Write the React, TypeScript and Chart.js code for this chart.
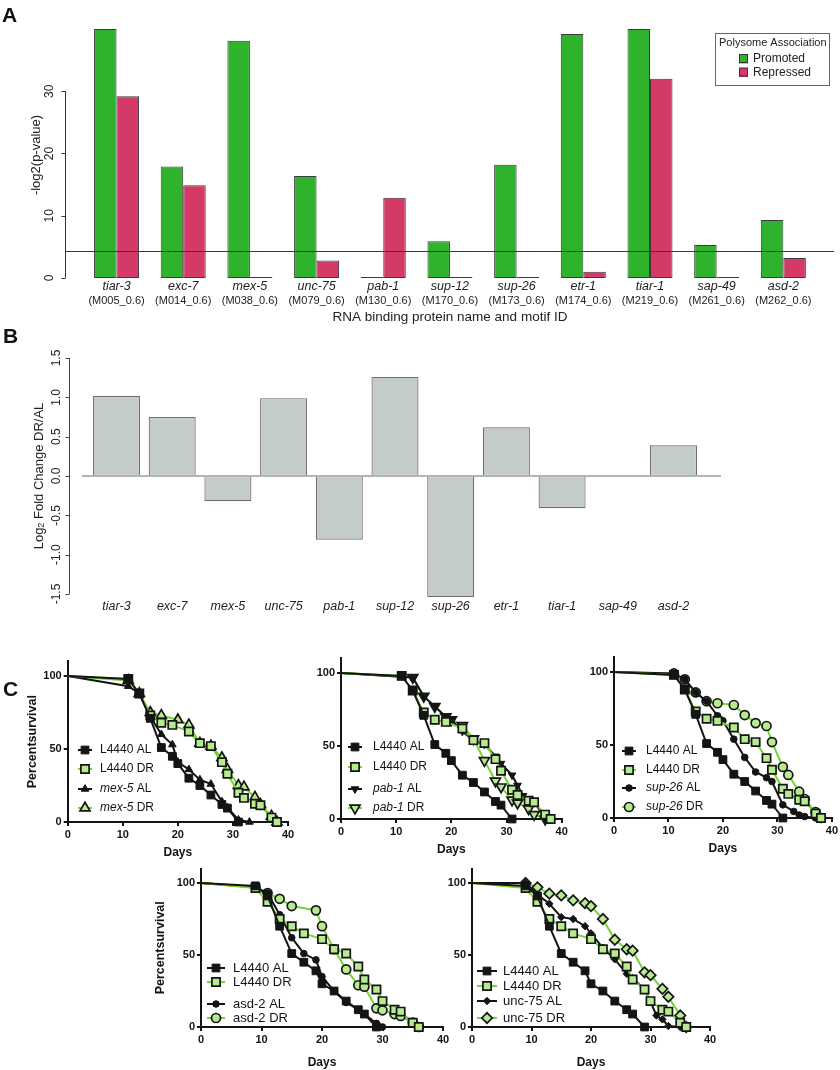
import React, { useEffect, useRef } from "react";
import { Chart, registerables } from "chart.js";
Chart.register(...registerables);

const FONT = "'Liberation Sans', Arial, Helvetica, sans-serif";
Chart.defaults.font.family = FONT;

// ---------------- Panel A data ----------------
const A_GENES = ["tiar-3", "exc-7", "mex-5", "unc-75", "pab-1", "sup-12", "sup-26", "etr-1", "tiar-1", "sap-49", "asd-2"];
const A_MOTIFS = ["(M005_0.6)", "(M014_0.6)", "(M038_0.6)", "(M079_0.6)", "(M130_0.6)", "(M170_0.6)", "(M173_0.6)", "(M174_0.6)", "(M219_0.6)", "(M261_0.6)", "(M262_0.6)"];
const A_PROMOTED = [40.0, 17.9, 38.1, 16.4, 0.15, 5.9, 18.2, 39.2, 40.0, 5.3, 9.3];
const A_REPRESSED = [29.2, 14.9, 0.15, 2.8, 12.9, 0.15, 0.15, 1.0, 32.0, 0.15, 3.2];
const A_SERIES = ["Promoted", "Repressed"];
const A_LEGEND_TITLE = "Polysome Association";
const A_Y_TICKS = [0, 10, 20, 30];
const A_THRESHOLD = 4.32;
const A_Y_TITLE = "-log2(p-value)";
const A_X_TITLE = "RNA binding protein name and motif ID";

// ---------------- Panel B data ----------------
const B_GENES = ["tiar-3", "exc-7", "mex-5", "unc-75", "pab-1", "sup-12", "sup-26", "etr-1", "tiar-1", "sap-49", "asd-2"];
const B_LOG2FC = [1.02, 0.75, -0.32, 0.99, -0.81, 1.26, -1.54, 0.62, -0.41, -0.01, 0.39];
const B_Y_TICKS = [-1.5, -1, -0.5, 0, 0.5, 1, 1.5];

// ---------------- Panel C data ----------------
const C_X_TICKS = [0, 10, 20, 30, 40];
const C_Y_TICKS = [0, 50, 100];

const TOP_CTRL_AL_DAYS = [0, 11, 13, 15, 17, 19, 20, 22, 24, 26, 28, 29, 31];
const TOP_CTRL_AL_PCT = [100, 98, 88, 71, 51, 45, 40, 30, 25, 18.5, 12, 9.5, 0];
const TOP_CTRL_DR_DAYS = [0, 11, 13, 15, 17, 19, 22, 24, 26, 28, 29, 31, 32, 34, 35, 37, 38];
const TOP_CTRL_DR_PCT = [100, 98, 88, 73, 68, 66.5, 62, 54, 52, 41, 33, 20, 16.5, 12.5, 11.5, 3, 0];

const MEX5_AL_DAYS = [0, 11, 13, 15, 17, 19, 20, 22, 24, 26, 28, 29, 31, 33];
const MEX5_AL_PCT = [100, 93, 88, 72, 60, 53, 41, 36, 29, 26, 14, 10, 1.5, 0];
const MEX5_DR_DAYS = [0, 11, 13, 15, 17, 20, 22, 24, 26, 28, 29, 31, 32, 34, 35, 37, 38];
const MEX5_DR_PCT = [100, 97, 88, 75, 73, 70, 66.5, 54, 52, 44, 36, 25, 24, 17, 12, 4, 0];

const PAB1_AL_DAYS = [0, 13, 15, 17, 19, 20, 22, 24, 26, 28, 29, 31, 32, 33, 35, 37];
const PAB1_AL_PCT = [100, 97, 84, 77, 70, 68, 60, 54, 51, 43, 38, 30, 23, 16, 12, 0];
const PAB1_DR_DAYS = [0, 13, 15, 17, 19, 20, 22, 24, 26, 28, 29, 31, 32, 34, 35, 37];
const PAB1_DR_PCT = [100, 97, 84, 77, 70, 68, 64, 55, 40, 26, 22, 13, 11, 7, 3, 0];

const SUP26_AL_DAYS = [0, 11, 13, 15, 17, 19, 20, 22, 24, 26, 28, 29, 31, 33, 34, 35, 37];
const SUP26_AL_PCT = [100, 99, 95, 86, 80, 70, 66.6, 54, 41.5, 31.5, 27.6, 25, 9, 4.5, 2, 1, 0];
const SUP26_DR_DAYS = [0, 11, 13, 15, 17, 19, 22, 24, 26, 28, 29, 31, 32, 34, 35, 37, 38];
const SUP26_DR_PCT = [100, 99, 95, 86, 80, 78.6, 77.4, 70.5, 65, 63, 52, 35, 29.5, 18, 13, 4, 0];

const BOT_CTRL_AL_DAYS = [0, 9, 11, 13, 15, 17, 19, 20, 22, 24, 26, 27, 29];
const BOT_CTRL_AL_PCT = [100, 98, 91, 70, 51, 45, 39, 30, 25, 18, 12, 9, 0];
const BOT_CTRL_DR_DAYS = [0, 9, 11, 13, 15, 17, 20, 22, 24, 26, 27, 29, 30, 32, 33, 35, 36];
const BOT_CTRL_DR_PCT = [100, 96.5, 87, 75, 70, 65, 61, 54, 51, 42, 33, 26, 18, 12, 10.7, 3, 0];

const ASD2_AL_DAYS = [0, 9, 11, 13, 15, 17, 19, 20, 22, 24, 26, 27, 29, 30];
const ASD2_AL_PCT = [100, 97, 93, 78, 62, 51, 46.6, 35, 25, 17, 12, 9, 2.5, 0];
const ASD2_DR_DAYS = [0, 9, 11, 13, 15, 19, 20, 22, 24, 26, 27, 29, 30, 32, 33, 35, 36];
const ASD2_DR_PCT = [100, 97, 93, 89, 84, 81, 70, 54, 40, 29, 28, 13, 11.6, 9, 7.7, 3, 0];

const UNC75_AL_DAYS = [0, 9, 11, 13, 15, 17, 19, 20, 22, 24, 26, 27, 29, 30, 31, 32, 33, 35];
const UNC75_AL_PCT = [100, 100, 92, 85.6, 76.3, 75, 70, 65, 55, 47, 37, 34, 26, 17.6, 8, 5.3, 0.7, 0];
const UNC75_DR_DAYS = [0, 9, 11, 13, 15, 17, 19, 20, 22, 24, 26, 27, 29, 30, 32, 33, 35, 36];
const UNC75_DR_PCT = [100, 100, 97, 92.6, 91.4, 88, 86, 84, 75, 60.6, 54, 53, 38, 36, 26.5, 21, 8, 0];

const C1_LABELS = ["L4440 AL", "L4440 DR", "mex-5 AL", "mex-5 DR"];
const C2_LABELS = ["L4440 AL", "L4440 DR", "pab-1 AL", "pab-1 DR"];
const C3_LABELS = ["L4440 AL", "L4440 DR", "sup-26 AL", "sup-26 DR"];
const C4_LABELS = ["L4440 AL", "L4440 DR", "asd-2 AL", "asd-2 DR"];
const C5_LABELS = ["L4440 AL", "L4440 DR", "unc-75 AL", "unc-75 DR"];
const C_ITALIC_GENES = ["mex-5", "pab-1", "sup-26"];
const C_X_TITLE = "Days";
const C_Y_TITLE = "Percentsurvival";

// ---------------- styles ----------------
const GREEN = "#74d62f";
const DR_FILL = "#b6ec8f";
const INK = "#141414";

type MarkerStyle = { line: string; style: string; r: number; fill: string; border: string; bw: number; rot?: number };
const ST: Record<string, MarkerStyle> = {
  sqAL: { line: INK, style: "rect", r: 5.5, fill: INK, border: INK, bw: 1 },
  sqDR: { line: GREEN, style: "rect", r: 5.8, fill: DR_FILL, border: INK, bw: 1.7 },
  triAL: { line: INK, style: "triangle", r: 4.4, fill: INK, border: INK, bw: 1 },
  triDR: { line: GREEN, style: "triangle", r: 5.8, fill: DR_FILL, border: INK, bw: 1.7 },
  dtriAL: { line: INK, style: "triangle", r: 4.4, fill: INK, border: INK, bw: 1, rot: 180 },
  dtriDR: { line: GREEN, style: "triangle", r: 5.8, fill: DR_FILL, border: INK, bw: 1.7, rot: 180 },
  dotAL: { line: INK, style: "circle", r: 3.3, fill: INK, border: INK, bw: 1 },
  circDR: { line: GREEN, style: "circle", r: 4.5, fill: DR_FILL, border: INK, bw: 1.7 },
  diaAL: { line: INK, style: "rectRot", r: 3.7, fill: INK, border: INK, bw: 1 },
  diaDR: { line: GREEN, style: "rectRot", r: 5.2, fill: DR_FILL, border: INK, bw: 1.7 },
};

// ---------------- helpers ----------------
type TitlePart = { t: string; size: number; dy?: number };
function makeRAxis(c: {
  ticks: number[]; decimals: number; axisX: number; tickLen: number; labelX: number; fontSize: number;
  title: TitlePart[]; titleX: number; titleY: number; color: string; drawLine: boolean;
}) {
  return {
    id: "rAxis",
    afterDraw(chart: any) {
      const ctx: CanvasRenderingContext2D = chart.ctx;
      const ys = chart.scales.y;
      const px = c.ticks.map((v) => ys.getPixelForValue(v));
      ctx.save();
      ctx.strokeStyle = c.color;
      ctx.lineWidth = 1;
      const ax = Math.round(c.axisX) + 0.5;
      ctx.beginPath();
      if (c.drawLine) {
        ctx.moveTo(ax, Math.min(...px));
        ctx.lineTo(ax, Math.max(...px));
      }
      px.forEach((p) => {
        const yy = Math.round(p) + 0.5;
        ctx.moveTo(ax - c.tickLen, yy);
        ctx.lineTo(ax, yy);
      });
      ctx.stroke();
      ctx.fillStyle = "#222";
      ctx.font = `${c.fontSize}px ${FONT}`;
      ctx.textAlign = "center";
      ctx.textBaseline = "middle";
      c.ticks.forEach((v, i) => {
        ctx.save();
        ctx.translate(c.labelX, px[i]);
        ctx.rotate(-Math.PI / 2);
        ctx.fillText(v.toFixed(c.decimals), 0, 0);
        ctx.restore();
      });
      ctx.save();
      ctx.translate(c.titleX, c.titleY);
      ctx.rotate(-Math.PI / 2);
      let total = 0;
      c.title.forEach((p) => {
        ctx.font = `${p.size}px ${FONT}`;
        total += ctx.measureText(p.t).width;
      });
      let x = -total / 2;
      ctx.textAlign = "left";
      c.title.forEach((p) => {
        ctx.font = `${p.size}px ${FONT}`;
        ctx.fillText(p.t, x, p.dy || 0);
        x += ctx.measureText(p.t).width;
      });
      ctx.restore();
      ctx.restore();
    },
  };
}

function drawMarker(ctx: CanvasRenderingContext2D, st: MarkerStyle, x: number, y: number) {
  const r = st.r;
  ctx.beginPath();
  if (st.style === "circle") ctx.arc(x, y, r, 0, Math.PI * 2);
  else if (st.style === "rect") {
    const s = r * Math.SQRT1_2;
    ctx.rect(x - s, y - s, 2 * s, 2 * s);
  } else if (st.style === "rectRot") {
    ctx.moveTo(x - r, y);
    ctx.lineTo(x, y - r);
    ctx.lineTo(x + r, y);
    ctx.lineTo(x, y + r);
    ctx.closePath();
  } else {
    let a = ((st.rot || 0) * Math.PI) / 180;
    ctx.moveTo(x + Math.sin(a) * r, y - Math.cos(a) * r);
    for (let k = 0; k < 2; k++) {
      a += (2 * Math.PI) / 3;
      ctx.lineTo(x + Math.sin(a) * r, y - Math.cos(a) * r);
    }
    ctx.closePath();
  }
  ctx.fillStyle = st.fill;
  ctx.strokeStyle = st.border;
  ctx.lineWidth = st.bw;
  ctx.fill();
  ctx.stroke();
}

// ---------------- Panel A ----------------
function buildA() {
  const yAxis = makeRAxis({
    ticks: A_Y_TICKS, decimals: 0, axisX: 65, tickLen: 4, labelX: 50, fontSize: 12,
    title: [{ t: A_Y_TITLE, size: 13 }], titleX: 36, titleY: 155, color: "#333", drawLine: true,
  });
  const threshold = {
    id: "threshold",
    afterDatasetsDraw(chart: any) {
      const ctx: CanvasRenderingContext2D = chart.ctx;
      const yy = Math.round(chart.scales.y.getPixelForValue(A_THRESHOLD)) + 0.5;
      ctx.save();
      ctx.strokeStyle = "#3a3a3a";
      ctx.lineWidth = 1;
      ctx.beginPath();
      ctx.moveTo(65, yy);
      ctx.lineTo(834, yy);
      ctx.stroke();
      ctx.restore();
    },
  };
  const legend = {
    id: "aLegend",
    afterDraw(chart: any) {
      const ctx: CanvasRenderingContext2D = chart.ctx;
      ctx.save();
      ctx.fillStyle = "#fff";
      ctx.fillRect(715, 33, 114, 52);
      ctx.strokeStyle = "#666";
      ctx.lineWidth = 1;
      ctx.strokeRect(715.5, 33.5, 114, 52);
      ctx.fillStyle = "#222";
      ctx.textBaseline = "middle";
      ctx.textAlign = "left";
      ctx.font = `11px ${FONT}`;
      ctx.fillText(A_LEGEND_TITLE, 719, 43);
      chart.data.datasets.forEach((ds: any, i: number) => {
        const y = 59 + i * 13.5;
        ctx.fillStyle = ds.backgroundColor;
        ctx.fillRect(739, y - 4.5, 9, 9);
        ctx.strokeStyle = "#333";
        ctx.strokeRect(739.5, y - 4.5, 8, 8);
        ctx.fillStyle = "#222";
        ctx.font = `12px ${FONT}`;
        ctx.fillText(ds.label, 753, y);
      });
      ctx.restore();
    },
  };
  const barCommon = { borderColor: "#3c3c3c", borderWidth: 1, borderSkipped: false, categoryPercentage: 0.675, barPercentage: 1 };
  return {
    type: "bar",
    data: {
      labels: A_GENES,
      datasets: [
        { label: A_SERIES[0], data: A_PROMOTED, backgroundColor: "#2fb22c", ...barCommon },
        { label: A_SERIES[1], data: A_REPRESSED, backgroundColor: "#d43a66", ...barCommon },
      ],
    },
    options: {
      animation: false, responsive: false, events: [],
      layout: { padding: { left: 83.2, right: 23.3, top: 16.5, bottom: 0 } },
      plugins: { legend: { display: false }, tooltip: { enabled: false } },
      scales: {
        x: {
          type: "category", position: "bottom", weight: 0,
          grid: { display: false, drawTicks: false }, border: { display: false },
          ticks: { font: { size: 12.5, style: "italic" }, color: "#222", padding: 1, maxRotation: 0, autoSkip: false },
          afterFit: (s: any) => { s.height = 16; },
        },
        x2: {
          type: "category", position: "bottom", weight: 1, labels: A_MOTIFS, offset: true,
          grid: { display: false, drawTicks: false }, border: { display: false },
          ticks: { font: { size: 11 }, color: "#222", padding: 0, maxRotation: 0, autoSkip: false },
          title: { display: true, text: A_X_TITLE, font: { size: 13.5 }, color: "#222", padding: { top: 0, bottom: 5 } },
          afterFit: (s: any) => { s.height = 36; },
        },
        y: { display: false, min: 0, max: 42 },
      },
    },
    plugins: [yAxis, threshold, legend],
  };
}

// ---------------- Panel B ----------------
function buildB() {
  const yAxis = makeRAxis({
    ticks: B_Y_TICKS, decimals: 1, axisX: 69, tickLen: 4, labelX: 57, fontSize: 12,
    title: [{ t: "Log", size: 13 }, { t: "2", size: 9, dy: 3 }, { t: " Fold Change DR/AL", size: 13 }],
    titleX: 39, titleY: 146, color: "#444", drawLine: true,
  });
  const zero = {
    id: "zero",
    afterDatasetsDraw(chart: any) {
      const ctx: CanvasRenderingContext2D = chart.ctx;
      const yy = chart.scales.y.getPixelForValue(0);
      ctx.save();
      ctx.strokeStyle = "#b4b4b4";
      ctx.lineWidth = 2;
      ctx.beginPath();
      ctx.moveTo(82, yy);
      ctx.lineTo(721, yy);
      ctx.stroke();
      ctx.restore();
    },
  };
  return {
    type: "bar",
    data: {
      labels: B_GENES,
      datasets: [{
        label: "log2FC", data: B_LOG2FC, backgroundColor: "#c3ccc9", borderColor: "#6f6f6f", borderWidth: 1.2,
        borderSkipped: false, categoryPercentage: 0.844, barPercentage: 1,
      }],
    },
    options: {
      animation: false, responsive: false, events: [],
      layout: { padding: { left: 88.65, right: 138.65, top: 24.1, bottom: 0 } },
      plugins: { legend: { display: false }, tooltip: { enabled: false } },
      scales: {
        x: {
          type: "category",
          grid: { display: false, drawTicks: false }, border: { display: false },
          ticks: { font: { size: 12.5, style: "italic" }, color: "#222", padding: 1.5, maxRotation: 0, autoSkip: false },
          afterFit: (s: any) => { s.height = 22.1; },
        },
        y: { display: false, min: -1.55, max: 1.55 },
      },
    },
    plugins: [yAxis, zero],
  };
}

// ---------------- Panel C ----------------
type SeriesDef = { label: string; days: number[]; pct: number[]; st: MarkerStyle };
type PlotDef = {
  series: SeriesDef[]; italic: string[];
  x0: number; x40: number; y0: number; y100: number;
  left: number; top: number; w: number; h: number;
  daysY: number; titleX?: number;
  rows: number[]; lineX: [number, number]; textX: number; fontSize: number;
};

function buildSurvival(p: PlotDef) {
  const k = (p.y0 - p.y100) / 100;
  const chartLeft = p.x0 - p.left;
  const chartRight = p.x40 - p.left;
  const topLocal = p.y0 - 110 * k - p.top;
  const bottomLocal = p.y0 - p.top;
  const xTitleSize = 12;
  const yTitleSize = 12.5;
  const legend = {
    id: "survLegend",
    afterDraw(chart: any) {
      const ctx: CanvasRenderingContext2D = chart.ctx;
      p.series.forEach((s, i) => {
        const y = p.rows[i] - p.top;
        const xa = p.lineX[0] - p.left;
        const xb = p.lineX[1] - p.left;
        ctx.save();
        ctx.strokeStyle = s.st.line;
        ctx.lineWidth = 2;
        ctx.beginPath();
        ctx.moveTo(xa, y);
        ctx.lineTo(xb, y);
        ctx.stroke();
        drawMarker(ctx, s.st, (xa + xb) / 2, y);
        let tx = p.textX - p.left;
        ctx.fillStyle = INK;
        ctx.textBaseline = "middle";
        ctx.textAlign = "left";
        const gene = p.italic.find((g) => s.label.startsWith(g));
        let rest = s.label;
        if (gene) {
          ctx.font = `italic ${p.fontSize}px ${FONT}`;
          ctx.fillText(gene, tx, y);
          tx += ctx.measureText(gene).width;
          rest = s.label.slice(gene.length);
        }
        ctx.font = `${p.fontSize}px ${FONT}`;
        ctx.fillText(rest, tx, y);
        ctx.restore();
      });
    },
  };
  const axisCommon = {
    grid: { drawOnChartArea: false, drawTicks: true, tickLength: 4, color: INK, lineWidth: 2 },
    border: { display: true, color: INK, width: 2 },
  };
  return {
    type: "line",
    data: {
      datasets: p.series.map((s) => ({
        label: s.label,
        data: s.days.map((d, i) => ({ x: d, y: s.pct[i] })),
        borderColor: s.st.line,
        borderWidth: 2,
        tension: 0,
        fill: false,
        clip: false,
        pointStyle: s.st.style,
        pointRadius: (c: any) => (c.dataIndex === 0 ? 0 : s.st.r),
        pointBackgroundColor: s.st.fill,
        pointBorderColor: s.st.border,
        pointBorderWidth: s.st.bw,
        pointRotation: s.st.rot || 0,
      })),
    },
    options: {
      animation: false, responsive: false, events: [],
      layout: { padding: { left: 0, right: p.w - chartRight, top: topLocal, bottom: 0 } },
      plugins: { legend: { display: false }, tooltip: { enabled: false } },
      scales: {
        x: {
          type: "linear", min: 0, max: 40, ...axisCommon,
          ticks: { font: { size: 11, weight: "bold" }, color: INK, padding: 2 },
          afterBuildTicks: (s: any) => { s.ticks = C_X_TICKS.map((v) => ({ value: v })); },
          title: {
            display: true, text: C_X_TITLE, color: INK, font: { size: xTitleSize, weight: "bold" },
            padding: { top: 0, bottom: p.top + p.h - p.daysY - (xTitleSize * 1.2) / 2 },
          },
          afterFit: (s: any) => { s.height = p.h - bottomLocal; },
        },
        y: {
          type: "linear", min: 0, max: 110, ...axisCommon,
          ticks: { font: { size: 11, weight: "bold" }, color: INK, padding: 2 },
          afterBuildTicks: (s: any) => { s.ticks = C_Y_TICKS.map((v) => ({ value: v })); },
          title: {
            display: p.titleX !== undefined, text: C_Y_TITLE, color: INK, font: { size: yTitleSize, weight: "bold" },
            padding: { top: (p.titleX || 0) - p.left - (yTitleSize * 1.2) / 2, bottom: 0 },
          },
          afterFit: (s: any) => { s.width = chartLeft; },
        },
      },
    },
    plugins: [legend],
  };
}

function mk(labels: string[], days: number[][], pct: number[][], styles: MarkerStyle[]): SeriesDef[] {
  return labels.map((l, i) => ({ label: l, days: days[i], pct: pct[i], st: styles[i] }));
}

const PLOTS: PlotDef[] = [
  {
    series: mk(C1_LABELS, [TOP_CTRL_AL_DAYS, TOP_CTRL_DR_DAYS, MEX5_AL_DAYS, MEX5_DR_DAYS], [TOP_CTRL_AL_PCT, TOP_CTRL_DR_PCT, MEX5_AL_PCT, MEX5_DR_PCT], [ST.sqAL, ST.sqDR, ST.triAL, ST.triDR]),
    italic: C_ITALIC_GENES, x0: 67.7, x40: 288, y0: 822, y100: 676, left: 0, top: 640, w: 300, h: 230,
    daysY: 853, titleX: 33, rows: [750, 769, 789, 808], lineX: [78, 92], textX: 100, fontSize: 12,
  },
  {
    series: mk(C2_LABELS, [TOP_CTRL_AL_DAYS, TOP_CTRL_DR_DAYS, PAB1_AL_DAYS, PAB1_DR_DAYS], [TOP_CTRL_AL_PCT, TOP_CTRL_DR_PCT, PAB1_AL_PCT, PAB1_DR_PCT], [ST.sqAL, ST.sqDR, ST.dtriAL, ST.dtriDR]),
    italic: C_ITALIC_GENES, x0: 341, x40: 561.7, y0: 819, y100: 673, left: 290, top: 640, w: 290, h: 230,
    daysY: 850, rows: [747, 767, 789, 808], lineX: [348, 362], textX: 373, fontSize: 12,
  },
  {
    series: mk(C3_LABELS, [TOP_CTRL_AL_DAYS, TOP_CTRL_DR_DAYS, SUP26_AL_DAYS, SUP26_DR_DAYS], [TOP_CTRL_AL_PCT, TOP_CTRL_DR_PCT, SUP26_AL_PCT, SUP26_DR_PCT], [ST.sqAL, ST.sqDR, ST.dotAL, ST.circDR]),
    italic: C_ITALIC_GENES, x0: 614, x40: 834, y0: 818, y100: 672, left: 565, top: 640, w: 275, h: 230,
    daysY: 849, rows: [751, 770, 788, 807], lineX: [622, 636], textX: 646, fontSize: 12,
  },
  {
    series: mk(C4_LABELS, [BOT_CTRL_AL_DAYS, BOT_CTRL_DR_DAYS, ASD2_AL_DAYS, ASD2_DR_DAYS], [BOT_CTRL_AL_PCT, BOT_CTRL_DR_PCT, ASD2_AL_PCT, ASD2_DR_PCT], [ST.sqAL, ST.sqDR, ST.dotAL, ST.circDR]),
    italic: [], x0: 201, x40: 443, y0: 1027, y100: 883, left: 120, top: 850, w: 340, h: 220,
    daysY: 1063, titleX: 161, rows: [968, 982, 1004, 1018], lineX: [207, 225], textX: 233, fontSize: 13,
  },
  {
    series: mk(C5_LABELS, [BOT_CTRL_AL_DAYS, BOT_CTRL_DR_DAYS, UNC75_AL_DAYS, UNC75_DR_DAYS], [BOT_CTRL_AL_PCT, BOT_CTRL_DR_PCT, UNC75_AL_PCT, UNC75_DR_PCT], [ST.sqAL, ST.sqDR, ST.diaAL, ST.diaDR]),
    italic: [], x0: 472, x40: 710, y0: 1027, y100: 883, left: 440, top: 850, w: 290, h: 220,
    daysY: 1063, rows: [971, 986, 1001, 1018], lineX: [477, 497], textX: 503, fontSize: 13,
  },
];

// ---------------- components ----------------
function ChartBox(props: { left: number; top: number; width: number; height: number; build: () => any }) {
  const ref = useRef<HTMLCanvasElement>(null);
  useEffect(() => {
    const chart = new Chart(ref.current as HTMLCanvasElement, props.build());
    return () => chart.destroy();
  }, []);
  return (
    <canvas
      ref={ref}
      width={props.width}
      height={props.height}
      style={{ position: "absolute", left: props.left, top: props.top, width: props.width, height: props.height }}
    />
  );
}

const letterStyle: React.CSSProperties = {
  position: "absolute", fontFamily: FONT, fontWeight: "bold", fontSize: 21, lineHeight: 1, color: "#111",
};

export default function App() {
  return (
    <div style={{ position: "absolute", left: 0, top: 0, width: 840, height: 1070, background: "#fff", overflow: "hidden" }}>
      <ChartBox left={0} top={0} width={840} height={330} build={buildA} />
      <ChartBox left={0} top={330} width={840} height={290} build={buildB} />
      {PLOTS.map((p, i) => (
        <ChartBox key={i} left={p.left} top={p.top} width={p.w} height={p.h} build={() => buildSurvival(p)} />
      ))}
      <div style={{ ...letterStyle, left: 2, top: 4 }}>A</div>
      <div style={{ ...letterStyle, left: 3, top: 325 }}>B</div>
      <div style={{ ...letterStyle, left: 3, top: 678 }}>C</div>
    </div>
  );
}
